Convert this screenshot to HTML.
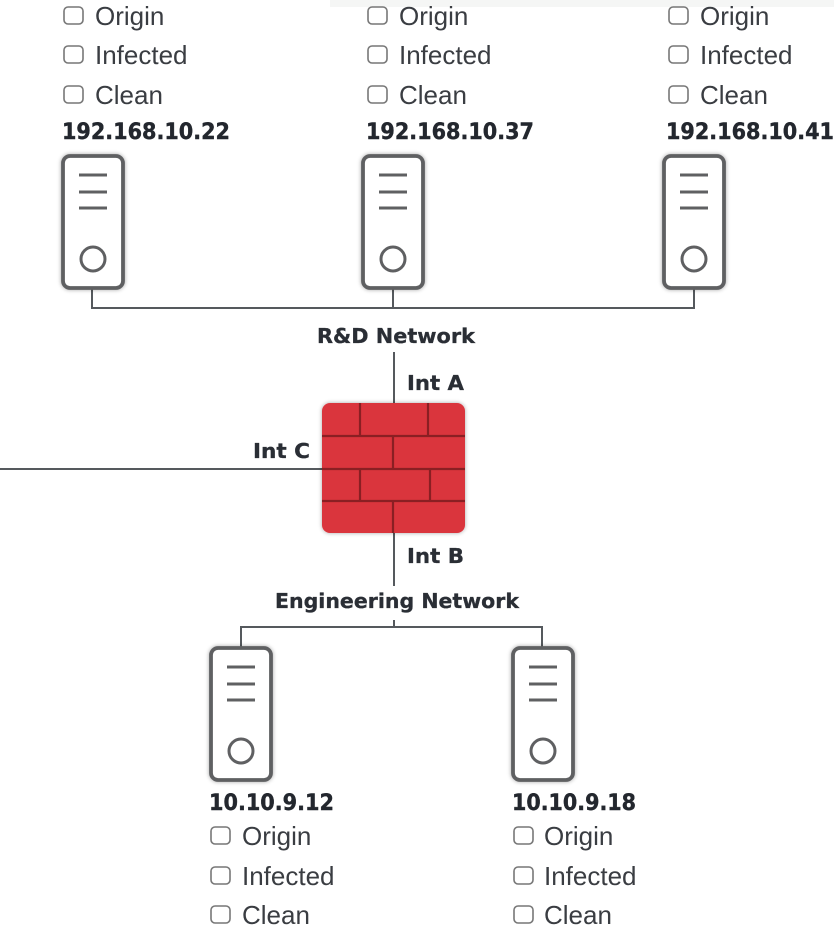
<!DOCTYPE html>
<html>
<head>
<meta charset="utf-8">
<style>
  html,body{margin:0;padding:0;background:#fff;}
  body{width:834px;height:929px;overflow:hidden;position:relative;}
  svg{position:absolute;left:0;top:0;}
  .cb{font-family:"Liberation Sans",sans-serif;font-size:26px;fill:#3a3d42;}
  .ip{font-family:"DejaVu Sans",sans-serif;font-weight:bold;font-size:22px;fill:#23272e;stroke:#23272e;stroke-width:0.4;}
  .lb{font-family:"DejaVu Sans",sans-serif;font-weight:bold;font-size:20.5px;fill:#2a2e35;stroke:#2a2e35;stroke-width:0.3;}
</style>
</head>
<body>
<svg width="834" height="929" viewBox="0 0 834 929" xmlns="http://www.w3.org/2000/svg">
  <defs>
    <filter id="sh" x="-30%" y="-30%" width="160%" height="160%">
      <feGaussianBlur in="SourceAlpha" stdDeviation="2"/>
      <feComponentTransfer><feFuncA type="linear" slope="0.35"/></feComponentTransfer>
      <feMerge><feMergeNode/><feMergeNode in="SourceGraphic"/></feMerge>
    </filter>
    <g id="srv">
      <rect x="0" y="0" width="60" height="132" rx="7" fill="#fff" stroke="#5f6062" stroke-width="3.8" filter="url(#sh)"/>
      <line x1="16" y1="19" x2="44" y2="19" stroke="#5f6062" stroke-width="3"/>
      <line x1="16" y1="36" x2="44" y2="36" stroke="#5f6062" stroke-width="3"/>
      <line x1="16" y1="52" x2="44" y2="52" stroke="#5f6062" stroke-width="3"/>
      <circle cx="30" cy="103" r="12" fill="none" stroke="#5f6062" stroke-width="3"/>
    </g>
    <rect id="box" x="0" y="0" width="19" height="17" rx="4" fill="#fff" stroke="#777" stroke-width="1.6"/>
  </defs>

  <!-- faint top strip -->
  <rect x="330" y="0" width="504" height="7" fill="#f5f6f5"/>

  <!-- connectors -->
  <g stroke="#55595d" stroke-width="2" fill="none">
    <polyline points="92,288 92,308 694,308 694,288"/>
    <line x1="393" y1="288" x2="393" y2="308"/>
    <line x1="394" y1="352" x2="394" y2="404"/>
    <line x1="394" y1="532" x2="394" y2="586"/>
    <line x1="0" y1="469" x2="323" y2="469"/>
    <line x1="394" y1="620" x2="394" y2="627"/>
    <polyline points="241,649 241,627 542,627 542,649"/>
  </g>

  <!-- servers -->
  <use href="#srv" x="63" y="156"/>
  <use href="#srv" x="363" y="156"/>
  <use href="#srv" x="664" y="156"/>
  <use href="#srv" x="211" y="648"/>
  <use href="#srv" x="513" y="648"/>

  <!-- firewall -->
  <g filter="url(#sh)">
    <rect x="322" y="403" width="143" height="130" rx="8" fill="#da363e"/>
  </g>
  <g stroke="#8a1f23" stroke-width="2.2">
    <line x1="322" y1="436" x2="465" y2="436"/>
    <line x1="322" y1="469" x2="465" y2="469"/>
    <line x1="322" y1="501" x2="465" y2="501"/>
    <line x1="360" y1="403" x2="360" y2="436"/>
    <line x1="428" y1="403" x2="428" y2="436"/>
    <line x1="393" y1="436" x2="393" y2="469"/>
    <line x1="360" y1="469" x2="360" y2="501"/>
    <line x1="430" y1="469" x2="430" y2="501"/>
    <line x1="393" y1="501" x2="393" y2="533"/>
  </g>

  <!-- network labels -->
  <text class="lb" x="317" y="343" textLength="158" lengthAdjust="spacingAndGlyphs">R&amp;D Network</text>
  <text class="lb" x="407" y="390" textLength="57" lengthAdjust="spacingAndGlyphs">Int A</text>
  <text class="lb" x="253" y="458" textLength="57" lengthAdjust="spacingAndGlyphs">Int C</text>
  <text class="lb" x="407" y="563" textLength="57" lengthAdjust="spacingAndGlyphs">Int B</text>
  <text class="lb" x="275" y="608" textLength="244" lengthAdjust="spacingAndGlyphs">Engineering Network</text>

  <!-- top group 1 -->
  <use href="#box" x="64" y="7"/><text class="cb" x="95" y="25">Origin</text>
  <use href="#box" x="64" y="46"/><text class="cb" x="95" y="64">Infected</text>
  <use href="#box" x="64" y="86"/><text class="cb" x="95" y="104">Clean</text>
  <text class="ip" x="62" y="139" textLength="168" lengthAdjust="spacingAndGlyphs">192.168.10.22</text>

  <!-- top group 2 -->
  <use href="#box" x="368" y="7"/><text class="cb" x="399" y="25">Origin</text>
  <use href="#box" x="368" y="46"/><text class="cb" x="399" y="64">Infected</text>
  <use href="#box" x="368" y="86"/><text class="cb" x="399" y="104">Clean</text>
  <text class="ip" x="366" y="139" textLength="168" lengthAdjust="spacingAndGlyphs">192.168.10.37</text>

  <!-- top group 3 -->
  <use href="#box" x="669" y="7"/><text class="cb" x="700" y="25">Origin</text>
  <use href="#box" x="669" y="46"/><text class="cb" x="700" y="64">Infected</text>
  <use href="#box" x="669" y="86"/><text class="cb" x="700" y="104">Clean</text>
  <text class="ip" x="666" y="139" textLength="168" lengthAdjust="spacingAndGlyphs">192.168.10.41</text>

  <!-- bottom group 1 -->
  <text class="ip" x="209" y="810" textLength="125" lengthAdjust="spacingAndGlyphs">10.10.9.12</text>
  <use href="#box" x="211" y="827"/><text class="cb" x="242" y="845">Origin</text>
  <use href="#box" x="211" y="867"/><text class="cb" x="242" y="885">Infected</text>
  <use href="#box" x="211" y="906"/><text class="cb" x="242" y="924">Clean</text>

  <!-- bottom group 2 -->
  <text class="ip" x="512" y="810" textLength="124" lengthAdjust="spacingAndGlyphs">10.10.9.18</text>
  <use href="#box" x="514" y="827"/><text class="cb" x="544" y="845">Origin</text>
  <use href="#box" x="514" y="867"/><text class="cb" x="544" y="885">Infected</text>
  <use href="#box" x="514" y="906"/><text class="cb" x="544" y="924">Clean</text>
</svg>
</body>
</html>
